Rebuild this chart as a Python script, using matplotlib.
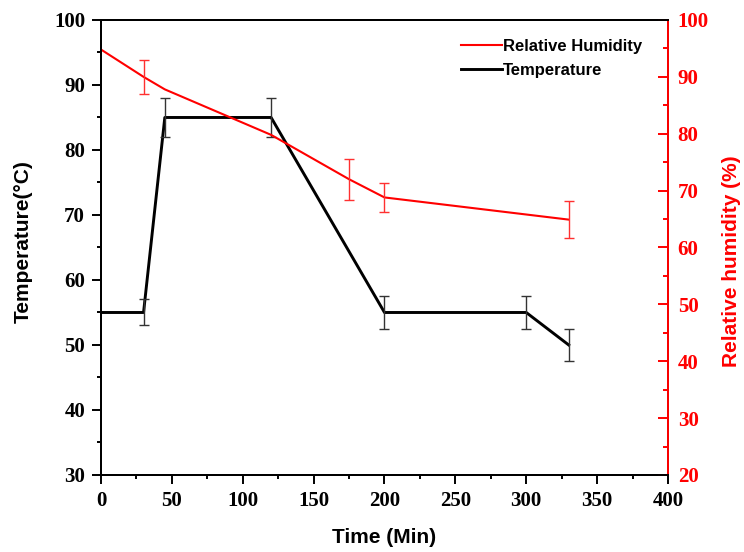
import matplotlib
matplotlib.use("Agg")
import matplotlib.pyplot as plt
from matplotlib.ticker import MultipleLocator

# Temperature profile (deg C)
temp_time = [0, 30, 45, 120, 200, 300, 330]
temp_vals = [55, 55, 85, 85, 55, 55, 50]
temp_err_time = [30, 45, 120, 200, 300, 330]
temp_err_vals = [55, 85, 85, 55, 55, 50]
temp_err = [2, 3, 3, 2.5, 2.5, 2.5]

# Relative humidity (%)
rh_time = [0, 30, 45, 120, 175, 200, 330]
rh_vals = [94.8, 90.0, 87.8, 79.8, 72.0, 68.8, 64.9]
rh_err_time = [30, 175, 200, 330]
rh_err_vals = [90.0, 72.0, 68.8, 64.9]
rh_err = [3.0, 3.6, 2.6, 3.2]

serif = "Liberation Serif"
sans = "Liberation Sans"

fig = plt.figure(figsize=(7.44, 5.52), dpi=100)
ax = fig.add_axes([0.1358, 0.1395, 0.762, 0.8243])
ax2 = ax.twinx()

# Temperature
ln_t, = ax.plot(temp_time, temp_vals, color="black", lw=2.1, label="Temperature")
ax.errorbar(temp_err_time, temp_err_vals, yerr=temp_err, fmt="none",
            ecolor="#333333", elinewidth=1, capsize=3.3, capthick=1)

# Humidity
ln_h, = ax2.plot(rh_time, rh_vals, color="red", lw=1.5, label="Relative Humidity")
ax2.errorbar(rh_err_time, rh_err_vals, yerr=rh_err, fmt="none",
             ecolor="#ff3030", elinewidth=1, capsize=3.3, capthick=1)

ax.set_xlim(0, 400)
ax.set_ylim(30, 100)
ax2.set_ylim(20, 100)

ax.xaxis.set_major_locator(MultipleLocator(50))
ax.xaxis.set_minor_locator(MultipleLocator(25))
ax.yaxis.set_major_locator(MultipleLocator(10))
ax.yaxis.set_minor_locator(MultipleLocator(5))
ax2.yaxis.set_major_locator(MultipleLocator(10))
ax2.yaxis.set_minor_locator(MultipleLocator(5))

ax.tick_params(axis="both", which="major", direction="out", length=6.5, width=1.4,
               labelsize=15, pad=5)
ax.tick_params(axis="both", which="minor", direction="out", length=3, width=1.4)
ax2.tick_params(axis="y", which="major", direction="in", length=7, width=1.4,
                labelsize=15, colors="red", pad=7)
ax2.tick_params(axis="y", which="minor", direction="in", length=3.5, width=1.4, colors="red")

for lab in ax.get_xticklabels() + ax.get_yticklabels():
    lab.set_fontfamily(serif)
    lab.set_fontweight("bold")
for lab in ax2.get_yticklabels():
    lab.set_fontfamily(serif)
    lab.set_fontweight("bold")
    lab.set_color("red")

for sp in ax.spines.values():
    sp.set_linewidth(1.4)
for sp in ax2.spines.values():
    sp.set_linewidth(1.4)
ax2.spines["right"].set_color("red")

ax.set_xlabel("Time (Min)", fontfamily=sans, fontweight="bold", fontsize=15, labelpad=12)
ax.set_ylabel("Temperature(\u00b0C)", fontfamily=sans, fontweight="bold", fontsize=15)
ax2.set_ylabel("Relative humidity (%)", fontfamily=sans, fontweight="bold", fontsize=15,
               color="red")
ax.yaxis.set_label_coords(-0.12, 0.512)
ax2.yaxis.set_label_coords(1.095, 0.47)

leg = ax.legend([ln_h, ln_t], ["Relative Humidity", "Temperature"],
                loc="upper right", bbox_to_anchor=(0.955, 0.959), frameon=False,
                borderaxespad=0, borderpad=0,
                prop={"family": sans, "weight": "bold", "size": 12},
                handlelength=2.45, handletextpad=0.1, labelspacing=0.55)

plt.savefig("out.png", dpi=100)
